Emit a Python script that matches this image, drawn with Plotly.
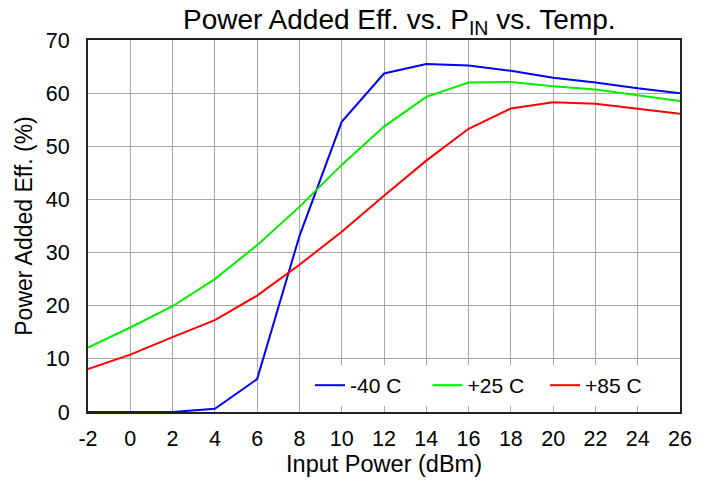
import plotly.graph_objects as go

pin = [-2, 0, 2, 4, 6, 8, 10, 12, 14, 16, 18, 20, 22, 24, 26]
pae_m40 = [0, 0, 0, 0.6, 6.2, 33.1, 54.6, 63.7, 65.5, 65.2, 64.2, 62.9, 62.0, 60.9, 60.0]
pae_p25 = [12.1, 15.9, 19.9, 25.0, 31.4, 38.6, 46.5, 53.7, 59.3, 62.0, 62.1, 61.3, 60.7, 59.6, 58.5]
pae_p85 = [8.1, 10.8, 14.1, 17.3, 21.9, 27.7, 33.9, 40.7, 47.3, 53.3, 57.1, 58.3, 58.0, 57.0, 56.1]
series_names = ["-40 C", "+25 C", "+85 C"]
series_colors = ["#0000ff", "#00ee00", "#ff0000"]
x_ticks = list(range(-2, 27, 2))
y_ticks = list(range(0, 71, 10))

font_family = "Liberation Sans, Arial, sans-serif"

fig = go.Figure()
for name, vals, col in zip(series_names, [pae_m40, pae_p25, pae_p85], series_colors):
    fig.add_trace(go.Scatter(x=pin, y=vals, mode="lines", name=name,
                             line=dict(color=col, width=2)))

fig.update_layout(
    width=700, height=474,
    margin=dict(l=80, r=28, t=32, b=70, autoexpand=False),
    paper_bgcolor="white", plot_bgcolor="white",
    font=dict(family=font_family, size=21, color="black"),
    title=dict(text="Power Added Eff. vs. P<sub>IN</sub> vs. Temp.",
               x=0.559, xanchor="center", y=0.977, yanchor="middle",
               font=dict(size=28, family=font_family)),
    legend=dict(orientation="h", x=0.375, y=0.016, xanchor="left", yanchor="bottom",
                bgcolor="white", borderwidth=0,
                entrywidth=72.5, entrywidthmode="pixels",
                itemwidth=30,
                font=dict(size=21, family=font_family)),
    showlegend=True,
)
fig.update_xaxes(range=[-2, 26], tickvals=x_ticks, ticktext=[str(v) for v in x_ticks],
                 showgrid=True, gridcolor="#a8a8a8", gridwidth=1,
                 showline=True, linecolor="#222222", linewidth=2, mirror=True,
                 ticks="", zeroline=False, ticklabelstandoff=6,
                 title=dict(text="Input Power (dBm)", standoff=5, font=dict(size=23.5)),
                 tickfont=dict(size=21.5))
fig.update_yaxes(range=[0, 70], tickvals=y_ticks,
                 showgrid=True, gridcolor="#a8a8a8", gridwidth=1,
                 showline=True, linecolor="#222222", linewidth=2, mirror=True,
                 ticks="", zeroline=False, ticklabelstandoff=12,
                 title=dict(text="Power Added Eff. (%)", standoff=7, font=dict(size=23)),
                 tickfont=dict(size=21.5))

fig.write_html("out.html")
